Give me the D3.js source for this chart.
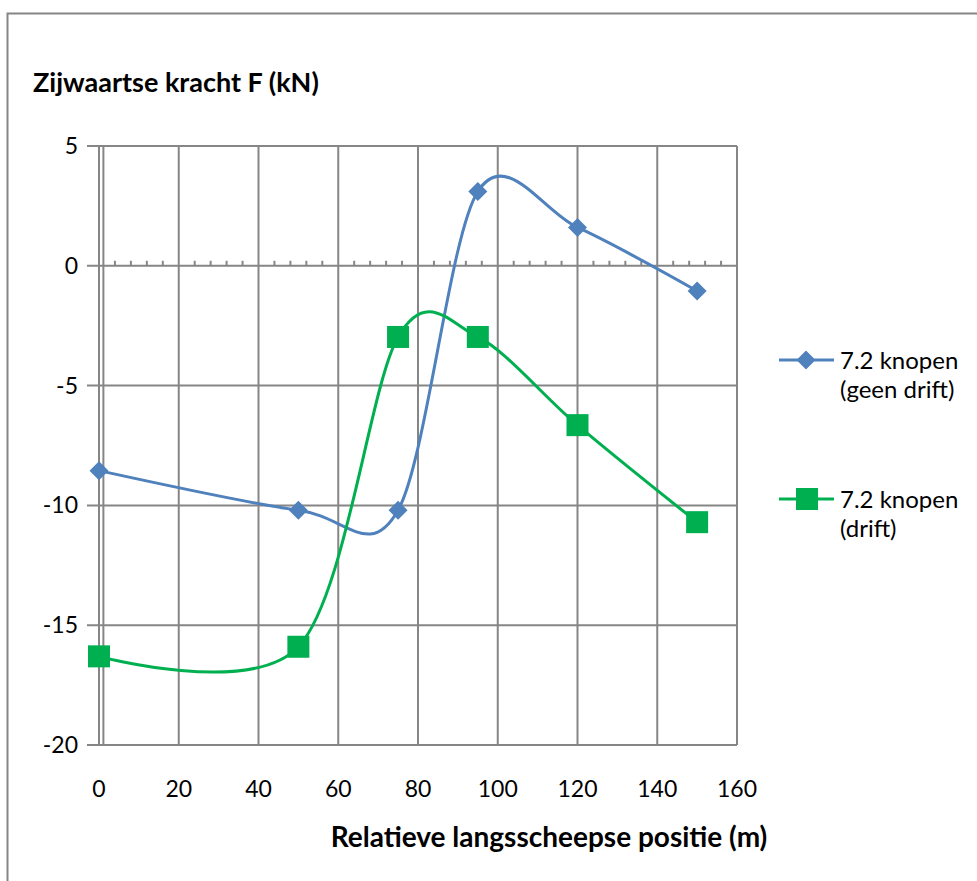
<!DOCTYPE html>
<html>
<head>
<meta charset="utf-8">
<script src="https://cdn.jsdelivr.net/npm/d3@7"></script>
<style>
  body { margin: 0; background: #fff; }
  text { font-family: Lato, "Open Sans", sans-serif; fill: #000; }
</style>
</head>
<body>
<svg width="977" height="881"></svg>
<script>
var positions = [0, 50, 75, 95, 120, 150];
var geenDrift = [-8.55, -10.2, -10.2, 3.1, 1.6, -1.05];
var drift = [-16.3, -15.9, -2.97, -2.97, -6.65, -10.7];
var seriesNames = [["7.2 knopen", "(geen drift)"], ["7.2 knopen", "(drift)"]];
var xTicks = [0, 20, 40, 60, 80, 100, 120, 140, 160];
var yTicks = [5, 0, -5, -10, -15, -20];
var minorTicks = d3.range(4, 160, 4).filter(function(d) { return d % 20 !== 0; });

var svg = d3.select("svg"),
	margin = {top: 146, right: 240, bottom: 136, left: 99},
	width = 977 - margin.left - margin.right,
	height = 881 - margin.top - margin.bottom;

var x = d3.scaleLinear().domain([0, 160]).range([0, 638]),
	y = d3.scaleLinear().domain([-20, 5]).range([599, 0]);

var grey = "#868686";

// chart border
svg.append("rect")
	.attr("x", 7.5).attr("y", 13.5)
	.attr("width", 975).attr("height", 875)
	.attr("fill", "none").attr("stroke", grey).attr("stroke-width", 2);

var g = svg.append("g")
	.attr("transform", "translate(" + margin.left + "," + margin.top + ")");

// gridlines
g.selectAll(".vgrid")
	.data(xTicks)
	.enter().append("line")
	.attr("x1", function(d) { return x(d); })
	.attr("x2", function(d) { return x(d); })
	.attr("y1", 0).attr("y2", y(-20))
	.attr("stroke", grey).attr("stroke-width", 2);

g.selectAll(".hgrid")
	.data(yTicks)
	.enter().append("line")
	.attr("x1", -12).attr("x2", x(160))
	.attr("y1", function(d) { return y(d); })
	.attr("y2", function(d) { return y(d); })
	.attr("stroke", grey).attr("stroke-width", 2);

// vertical axis line (just right of x = 0)
g.append("line")
	.attr("x1", x(1.1)).attr("x2", x(1.1))
	.attr("y1", 0).attr("y2", y(-20))
	.attr("stroke", grey).attr("stroke-width", 2);

// minor ticks on the horizontal axis at y = 0
g.selectAll(".minor")
	.data(minorTicks)
	.enter().append("line")
	.attr("x1", function(d) { return x(d); })
	.attr("x2", function(d) { return x(d); })
	.attr("y1", y(0)).attr("y2", y(0) - 5)
	.attr("stroke", grey).attr("stroke-width", 2);

// tick labels
g.selectAll(".ylab")
	.data(yTicks)
	.enter().append("text")
	.attr("x", -21)
	.attr("y", function(d) { return y(d) + 8; })
	.attr("text-anchor", "end")
	.style("font-size", "23px")
	.text(function(d) { return d; });

g.selectAll(".xlab")
	.data(xTicks)
	.enter().append("text")
	.attr("x", function(d) { return x(d); })
	.attr("y", y(-20) + 52)
	.attr("text-anchor", "middle")
	.style("font-size", "23px")
	.text(function(d) { return d; });

// titles
svg.append("text")
	.attr("x", 33).attr("y", 92)
	.style("font-size", "27px").style("font-weight", "bold")
	.text("Zijwaartse kracht F (kN)");

svg.append("text")
	.attr("x", 549).attr("y", 847)
	.attr("text-anchor", "middle")
	.style("font-size", "28px").style("font-weight", "bold")
	.text("Relatieve langsscheepse positie (m)");

// series
var line = d3.line()
	.x(function(d) { return x(d[0]); })
	.y(function(d) { return y(d[1]); })
	.curve(d3.curveCardinal.tension(0.05));

var blue = "#4F81BD", green = "#00B050";
var blueData = d3.zip(positions, geenDrift),
	greenData = d3.zip(positions, drift);

g.append("path").datum(blueData)
	.attr("fill", "none").attr("stroke", blue).attr("stroke-width", 3)
	.attr("d", line);
g.append("path").datum(greenData)
	.attr("fill", "none").attr("stroke", green).attr("stroke-width", 3)
	.attr("d", line);

var diamond = d3.symbol().type(d3.symbolDiamond2).size(230);
g.selectAll(".dia")
	.data(blueData)
	.enter().append("path")
	.attr("transform", function(d) { return "translate(" + x(d[0]) + "," + y(d[1]) + ")"; })
	.attr("d", diamond)
	.attr("fill", blue);

g.selectAll(".sq")
	.data(greenData)
	.enter().append("rect")
	.attr("x", function(d) { return x(d[0]) - 11; })
	.attr("y", function(d) { return y(d[1]) - 11; })
	.attr("width", 22).attr("height", 22)
	.attr("fill", green);

// legend
var legend = svg.append("g");
var legendY = [360, 499];
[blue, green].forEach(function(c, i) {
	var ly = legendY[i];
	legend.append("line")
		.attr("x1", 779).attr("x2", 834)
		.attr("y1", ly).attr("y2", ly)
		.attr("stroke", c).attr("stroke-width", 3);
	if (i === 0) {
		legend.append("path")
			.attr("transform", "translate(806," + ly + ")")
			.attr("d", diamond).attr("fill", c);
	} else {
		legend.append("rect")
			.attr("x", 796).attr("y", ly - 11)
			.attr("width", 22).attr("height", 22)
			.attr("fill", c);
	}
	seriesNames[i].forEach(function(s, j) {
		legend.append("text")
			.attr("x", 840).attr("y", ly + 9 + j * 29)
			.style("font-size", "24px")
			.text(s);
	});
});
</script>
</body>
</html>
